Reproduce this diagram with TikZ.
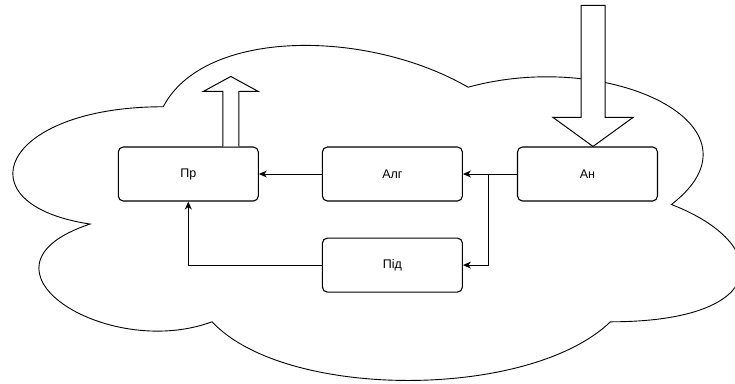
\documentclass[tikz,border=0pt]{standalone}
\usepackage{fontspec}
\setmainfont{Liberation Sans}
\usetikzlibrary{arrows.meta,positioning}
\tikzset{
  block/.style={draw,line width=1.1pt,rounded corners=5pt,minimum width=140pt,minimum height=54pt,font=\fontsize{12.5}{14}\selectfont},
  fat/.style={draw,fill=white,line width=1pt},
}

\begin{document}
\begin{tikzpicture}[x=1pt,y=-1pt,->,>={Stealth[length=8pt,width=7pt,inset=2.5pt]},line width=1pt]
  \useasboundingbox (0,0) rectangle (735,383);
  % cloud
  \begin{scope}[shift={(-40,9)},x=813pt,y=-391pt]
    \draw[-,line width=0.9pt,fill=white] (0.25,0.25)
      .. controls (0.05,0.25) and (0,0.5) .. (0.16,0.55)
      .. controls (0,0.66) and (0.18,0.9) .. (0.31,0.8)
      .. controls (0.4,1) and (0.7,1) .. (0.8,0.8)
      .. controls (1,0.8) and (1,0.6) .. (0.875,0.5)
      .. controls (1,0.3) and (0.8,0.1) .. (0.625,0.2)
      .. controls (0.5,0.05) and (0.3,0.05) .. (0.25,0.25) -- cycle;
  \end{scope}
  \node[block] (an) at (587.5,174) {Ан};
  \node[block] (alg) [left=54pt of an] {Алг};
  \node[block] (pr) [left=63pt of alg] {Пр};
  \node[block] (pid) [below=36pt of alg] {Під};
  \draw (an) -- (alg);
  \draw (an.west) -- ++(-28,0) |- (pid.east);
  \draw (alg) -- (pr);
  \draw (pid.west) -| (pr.south);
  % block arrows
  \draw[fat,-] ([xshift=34.5pt]pr.north) -- ++(0,-55) -- ++(-19.5,0) -- ++(27.5,-15)
    -- ++(27.5,15) -- ++(-19.5,0) -- ++(0,55);
  \draw[fat,-] ([xshift=5.5pt]an.north) -- ++(-40,-29) -- ++(28,0) -- ++(0,-112)
    -- ++(24,0) -- ++(0,112) -- ++(28,0) -- cycle;
\end{tikzpicture}
\end{document}
